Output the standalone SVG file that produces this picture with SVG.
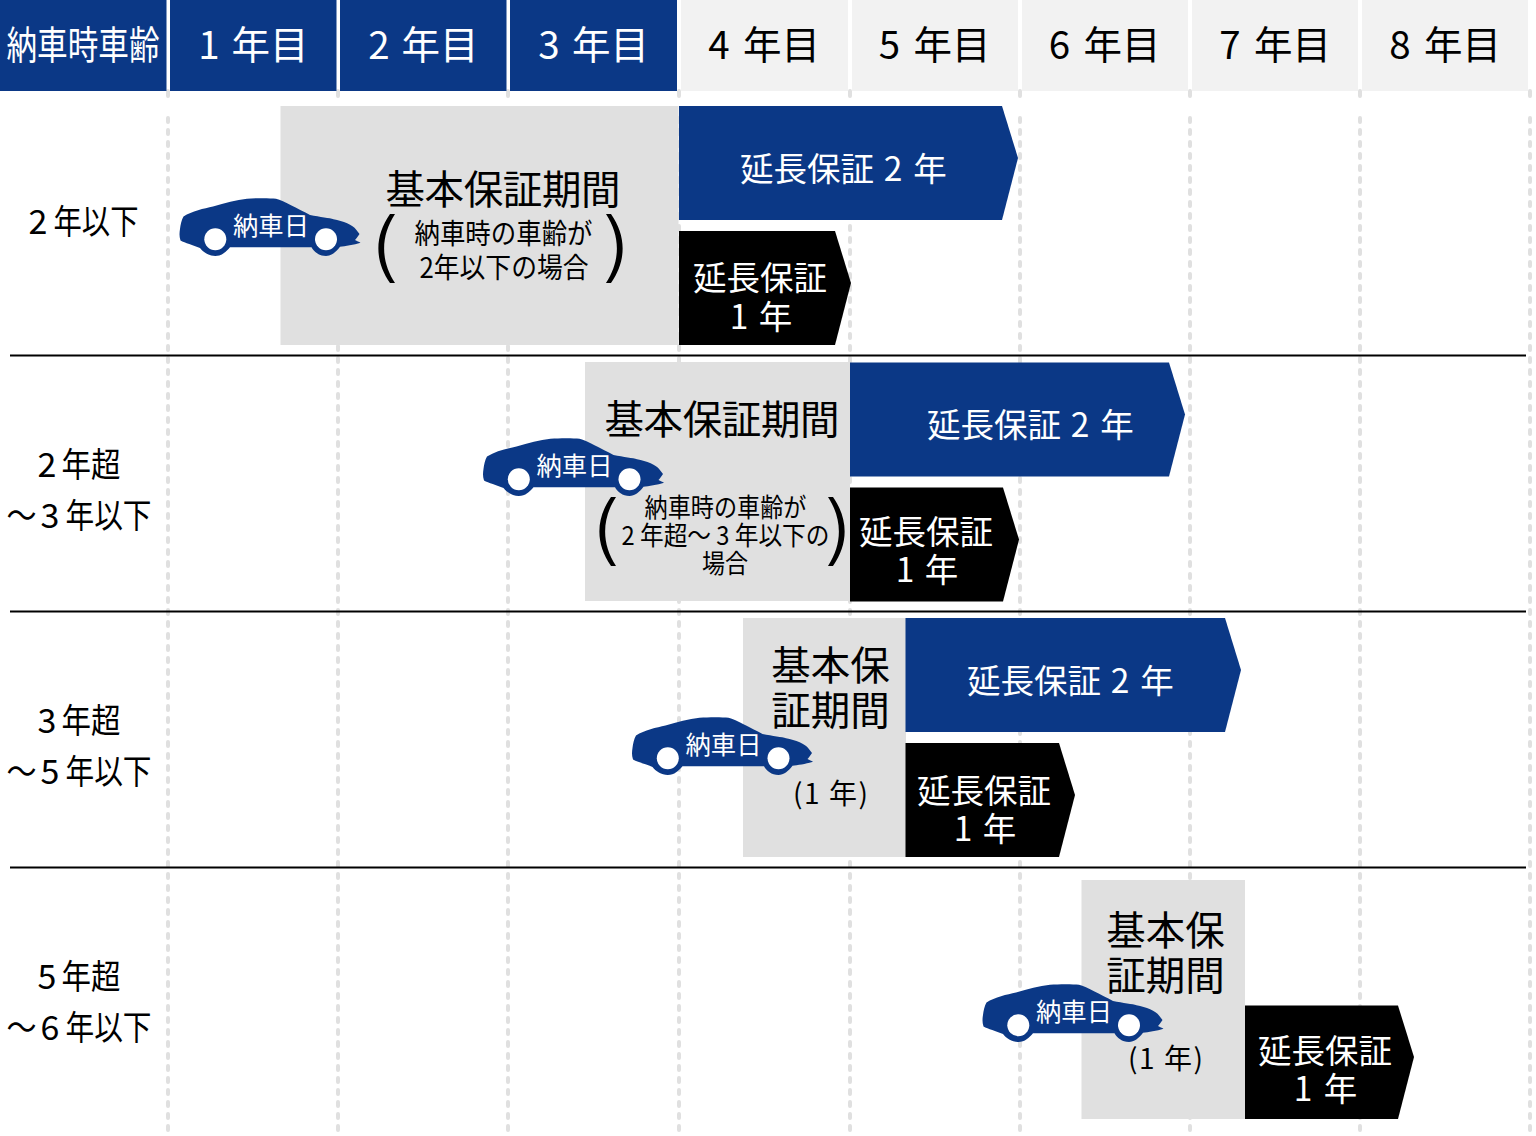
<svg xmlns="http://www.w3.org/2000/svg" xmlns:xlink="http://www.w3.org/1999/xlink" width="1536" height="1136" viewBox="0 0 1536 1136">
<style>
text{font-family:"Noto Sans CJK JP","Noto Sans",sans-serif;text-anchor:middle}
.w{fill:#fff}.k{fill:#000}
.h{font-size:38.5px}.hd{fill:#0b3886}.hl{fill:#f2f2f2}
.grid{stroke:#e0e0e0;stroke-width:4;stroke-linecap:round;stroke-dasharray:4 8;fill:none}
.stub{stroke:#e0e0e0;stroke-width:4;stroke-linecap:round;fill:none}
.sep{stroke:#000;stroke-width:2;fill:none}
.base{fill:#e0e0e0}.ext2{fill:#0b3886}.ext1{fill:#000}
.t34{font-size:34px}.t33{font-size:33.5px}.t40{font-size:39.5px}.t28{font-size:28px}
.paren{fill:#000}
</style>
<defs>
<g id="car">
<path fill="#0b3886" d="M3.5 18.500C12 13 24 10.500 33 8.500C45 5 56 2 67 .8C76 0 90 0 96 .8C104 3 118 11 130 17C140 19 150 20 153.500 21.300C163 23 173 27 176 31.500L179.500 36C178 38 176 41 175 42C177 43 179 44 180.500 44.700C174 47 165 48 160 48.700C156 54 151 58 146 58C139 58 134 54 131.500 49.300L50 49.300C46 54 42 58 35.300 58C29 58 23 54 20 50C13 47 5 45 .5 42.500C-1 38 -.5 34 0 31C.5 27 1.500 22 3.500 18.500Z"/>
<circle cx="35.300" cy="41.300" r="11" fill="#fff"/><circle cx="146" cy="41.300" r="11" fill="#fff"/>
<text class="w" x="91" y="36.500" font-size="25" textLength="76" lengthAdjust="spacingAndGlyphs">納車日</text>
</g>
<path id="lp" d="M11.500 0C-4 22 -4 47 11.500 69L16.500 69C2 47 2 22 16.500 0Z"/>
<path id="rp" d="M5 0C20.500 22 20.500 47 5 69L0 69C14.500 47 14.500 22 0 0Z"/>
</defs>
<rect width="1536" height="1136" fill="#fff"/>
<g id="grid">
<path class="grid" d="M168 118V1136M338 118V1136M508 118V1136M679 118V1136M850 118V1136M1020 118V1136M1190 118V1136M1360 118V1136M1530 118V1136"/>
<path class="stub" d="M168 91V96M338 91V96M508 91V96M679 91V96M850 91V96M1020 91V96M1190 91V96M1360 91V96M1530 91V96"/>
</g>
<g id="header">
<rect class="hd" x="0" y="0" width="166.500" height="91"/>
<rect class="hd" x="170" y="0" width="166.500" height="91"/>
<rect class="hd" x="340" y="0" width="166.500" height="91"/>
<rect class="hd" x="510" y="0" width="167" height="91"/>
<rect class="hl" x="681" y="0" width="167" height="91"/>
<rect class="hl" x="852" y="0" width="166" height="91"/>
<rect class="hl" x="1022" y="0" width="166" height="91"/>
<rect class="hl" x="1192" y="0" width="166" height="91"/>
<rect class="hl" x="1362" y="0" width="166" height="91"/>
<text class="h w" x="83" y="58.500" textLength="153" lengthAdjust="spacingAndGlyphs">納車時車齢</text>
<text class="h w" y="59"><tspan x="209">1</tspan><tspan x="270">年目</tspan></text>
<text class="h w" y="59"><tspan x="379">2</tspan><tspan x="440">年目</tspan></text>
<text class="h w" y="59"><tspan x="549">3</tspan><tspan x="610.500">年目</tspan></text>
<text class="h k" y="59"><tspan x="719">4</tspan><tspan x="781.500">年目</tspan></text>
<text class="h k" y="59"><tspan x="889.500">5</tspan><tspan x="952">年目</tspan></text>
<text class="h k" y="59"><tspan x="1059.500">6</tspan><tspan x="1122">年目</tspan></text>
<text class="h k" y="59"><tspan x="1230">7</tspan><tspan x="1292.500">年目</tspan></text>
<text class="h k" y="59"><tspan x="1400">8</tspan><tspan x="1462.500">年目</tspan></text>
</g>
<g id="separators"><path class="sep" d="M10 355.500H1526M10 611.500H1526M10 867.500H1526"/></g>
<g id="row-labels">
<text class="t34 k" x="38" y="234">2</text><text class="t34 k" x="96" y="234" textLength="85" lengthAdjust="spacingAndGlyphs">年以下</text>
<text class="t34 k" x="47" y="477">2</text><text class="t34 k" x="91" y="477" textLength="59" lengthAdjust="spacingAndGlyphs">年超</text>
<text class="t34 k" x="21.500" y="528" textLength="30" lengthAdjust="spacingAndGlyphs">～</text><text class="t34 k" x="50" y="528">3</text><text class="t34 k" x="108.500" y="528" textLength="86" lengthAdjust="spacingAndGlyphs">年以下</text>
<text class="t34 k" x="47" y="733">3</text><text class="t34 k" x="91" y="733" textLength="59" lengthAdjust="spacingAndGlyphs">年超</text>
<text class="t34 k" x="21.500" y="784" textLength="30" lengthAdjust="spacingAndGlyphs">～</text><text class="t34 k" x="50" y="784">5</text><text class="t34 k" x="108.500" y="784" textLength="86" lengthAdjust="spacingAndGlyphs">年以下</text>
<text class="t34 k" x="47" y="989">5</text><text class="t34 k" x="91" y="989" textLength="59" lengthAdjust="spacingAndGlyphs">年超</text>
<text class="t34 k" x="21.500" y="1040" textLength="30" lengthAdjust="spacingAndGlyphs">～</text><text class="t34 k" x="50" y="1040">6</text><text class="t34 k" x="108.500" y="1040" textLength="86" lengthAdjust="spacingAndGlyphs">年以下</text>
</g>
<g id="row1">
<rect class="base" x="280.500" y="106" width="398" height="239"/>
<polygon class="ext2" points="679,106 1002,106 1018,158 1002,220 679,220"/>
<polygon class="ext1" points="679,231 835,231 851,283 835,345 679,345"/>
<text class="t40 k" x="503" y="203.500" textLength="235">基本保証期間</text>
<text class="t28 k" x="503.500" y="244" textLength="178" lengthAdjust="spacingAndGlyphs">納車時の車齢が</text>
<text class="t28 k" x="504" y="278" textLength="169" lengthAdjust="spacingAndGlyphs">2年以下の場合</text>
<use class="paren" xlink:href="#lp" href="#lp" x="378.500" y="214"/>
<use class="paren" xlink:href="#rp" href="#rp" x="606" y="214"/>
<text class="t33 w" y="181"><tspan x="807">延長保証</tspan><tspan x="893">2</tspan><tspan x="930">年</tspan></text>
<text class="t33 w" x="760" y="290">延長保証</text>
<text class="t33 w" y="328.500"><tspan x="739">1</tspan><tspan x="775.500">年</tspan></text>
<use xlink:href="#car" href="#car" x="180" y="198"/>
</g>
<g id="row2">
<rect class="base" x="585" y="362" width="265" height="239"/>
<polygon class="ext2" points="850,362.500 1169,362.500 1185,414.500 1169,476.500 850,476.500"/>
<polygon class="ext1" points="850,487.500 1003,487.500 1019,539.500 1003,601.500 850,601.500"/>
<text class="t40 k" x="722" y="433.500" textLength="235">基本保証期間</text>
<text font-size="26" class="k" x="725.500" y="517" textLength="162" lengthAdjust="spacingAndGlyphs">納車時の車齢が</text>
<text font-size="26" class="k" x="725.500" y="545" textLength="208" lengthAdjust="spacingAndGlyphs">2 年超～ 3 年以下の</text>
<text font-size="26" class="k" x="725" y="573" textLength="46" lengthAdjust="spacingAndGlyphs">場合</text>
<use class="paren" xlink:href="#lp" href="#lp" x="599.500" y="497"/>
<use class="paren" xlink:href="#rp" href="#rp" x="828" y="497"/>
<text class="t33 w" y="437"><tspan x="994">延長保証</tspan><tspan x="1080">2</tspan><tspan x="1117">年</tspan></text>
<text class="t33 w" x="926" y="543.500">延長保証</text>
<text class="t33 w" y="582"><tspan x="905">1</tspan><tspan x="941.500">年</tspan></text>
<use xlink:href="#car" href="#car" x="483.500" y="438"/>
</g>
<g id="row3">
<rect class="base" x="743" y="618" width="163" height="239"/>
<polygon class="ext2" points="905.500,618 1225,618 1241,670 1225,732 905.500,732"/>
<polygon class="ext1" points="905.500,743 1059,743 1075,795 1059,857 905.500,857"/>
<text class="t40 k" x="830.500" y="680">基本保</text>
<text class="t40 k" x="830.500" y="725">証期間</text>
<text class="t28 k" x="830.500" y="804" textLength="75">(1 年)</text>
<text class="t33 w" y="693"><tspan x="1034">延長保証</tspan><tspan x="1120">2</tspan><tspan x="1157">年</tspan></text>
<text class="t33 w" x="984" y="802.500">延長保証</text>
<text class="t33 w" y="841"><tspan x="963">1</tspan><tspan x="999.500">年</tspan></text>
<use xlink:href="#car" href="#car" x="632.500" y="717"/>
</g>
<g id="row4">
<rect class="base" x="1081.500" y="880" width="163.500" height="239"/>
<polygon class="ext1" points="1245,1005.500 1398,1005.500 1414,1057 1398,1119 1245,1119"/>
<text class="t40 k" x="1165.500" y="945">基本保</text>
<text class="t40 k" x="1165.500" y="990">証期間</text>
<text class="t28 k" x="1165.500" y="1069" textLength="75">(1 年)</text>
<text class="t33 w" x="1325" y="1062.500">延長保証</text>
<text class="t33 w" y="1101"><tspan x="1303">1</tspan><tspan x="1340.500">年</tspan></text>
<use xlink:href="#car" href="#car" x="983" y="984"/>
</g>
</svg>
